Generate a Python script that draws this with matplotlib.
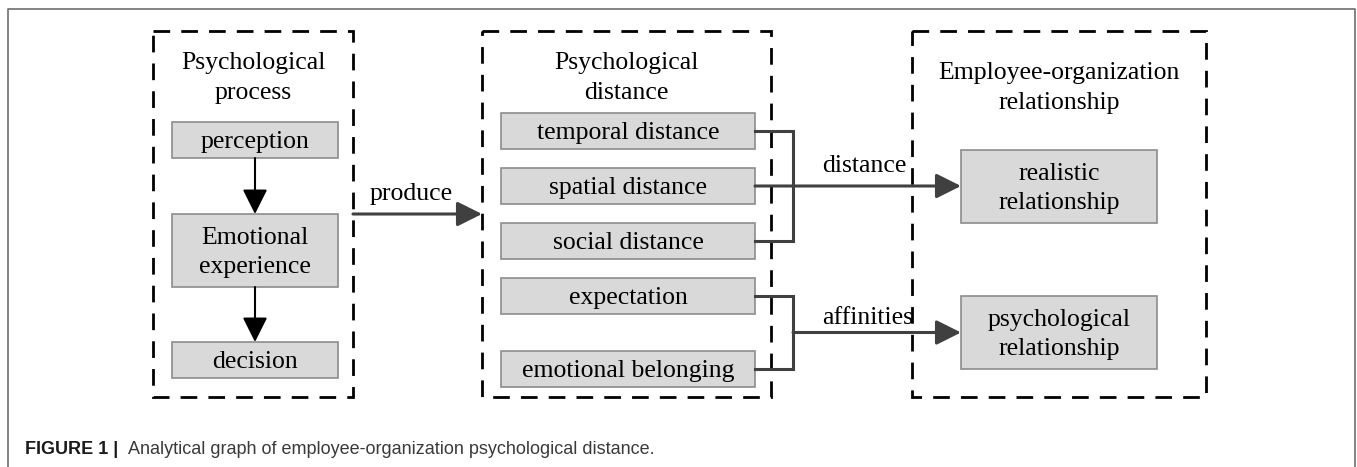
import matplotlib.pyplot as plt
from matplotlib.patches import Rectangle

# Texte des Diagramms
gruppen_titel = ["Psychological\nprocess", "Psychological\ndistance",
                 "Employee-organization\nrelationship"]
prozess = ["perception", "Emotional\nexperience", "decision"]
distanzen = ["temporal distance", "spatial distance", "social distance",
             "expectation", "emotional belonging"]
beziehungen = ["realistic\nrelationship", "psychological\nrelationship"]
pfeil_texte = ["produce", "distance", "affinities"]
caption_fett = "FIGURE 1 |"
caption_text = "Analytical graph of employee-organization psychological distance."

# Layout in Pixeln (x0, x1, y0, y1)
gruppen_box = [(153, 353), (482, 771), (912, 1206)]
titel_y = [78, 78, 88]
prozess_y = [(122, 158), (214, 287), (342, 378)]
distanz_x = (501, 755)
distanz_y = [(113, 149), (168, 204), (223, 259), (278, 314), (351, 387)]
bez_x = (961, 1157)
bez_y = [(150, 223), (296, 369)]

serif = "Liberation Serif"
fs = 18.5
ls = 1.42
fill = "#d9d9d9"
kante = "#8c8c8c"
dunkel = "#404040"

fig = plt.figure(figsize=(13.57, 4.67), dpi=100)
ax = fig.add_axes([0, 0, 1, 1])
ax.set_xlim(0, 1357)
ax.set_ylim(467, 0)
ax.axis("off")

# Rahmen
ax.plot([8, 8, 1355, 1355], [467, 9, 9, 467], color="#6e6e6e", lw=1.2)

# gestrichelte Gruppen
for (x0, x1), titel, ty in zip(gruppen_box, gruppen_titel, titel_y):
    ax.add_patch(Rectangle((x0, 31), x1 - x0, 366, fill=False, ec="black",
                           lw=2.0, ls=(0, (6, 4))))
    ax.text((x0 + x1) / 2, ty, titel, ha="center", va="center",
            family=serif, fontsize=fs, linespacing=ls)


def kasten(x0, x1, y0, y1, text):
    ax.add_patch(Rectangle((x0, y0), x1 - x0, y1 - y0, fc=fill, ec=kante, lw=1.2))
    ax.text((x0 + x1) / 2, (y0 + y1) / 2 + 2, text, ha="center", va="center",
            family=serif, fontsize=fs, linespacing=ls)


def pfeil(x0, y0, x1, y1, farbe, lw):
    ax.annotate("", xy=(x1, y1), xytext=(x0, y0),
                arrowprops=dict(arrowstyle="-|>", mutation_scale=38, lw=lw,
                                color=farbe, shrinkA=0, shrinkB=0))


# linke Gruppe
for (y0, y1), t in zip(prozess_y, prozess):
    kasten(172, 338, y0, y1, t)
for i in range(len(prozess_y) - 1):
    pfeil(255, prozess_y[i][1], 255, prozess_y[i + 1][0], "black", 1.5)

# produce
pfeil(353, 214, 482, 214, dunkel, 2.2)
ax.text(411, 194, pfeil_texte[0], ha="center", va="center", family=serif, fontsize=fs)

# mittlere Gruppe
for (y0, y1), t in zip(distanz_y, distanzen):
    kasten(distanz_x[0], distanz_x[1], y0, y1, t)

mitte = [(a + b) / 2 for a, b in distanz_y]
xv = 793
# Klammer fuer die drei Distanzen
ax.plot([distanz_x[1], xv, xv, distanz_x[1]], [mitte[0], mitte[0], mitte[2], mitte[2]],
        color=dunkel, lw=2.2, solid_joinstyle="miter")
pfeil(distanz_x[1], mitte[1], bez_x[0], mitte[1], dunkel, 2.2)
ax.text(864, 166, pfeil_texte[1], ha="center", va="center", family=serif, fontsize=fs)

# Klammer fuer Erwartung / Zugehoerigkeit
ax.plot([distanz_x[1], xv, xv, distanz_x[1]], [mitte[3], mitte[3], mitte[4], mitte[4]],
        color=dunkel, lw=2.2, solid_joinstyle="miter")
y_aff = (bez_y[1][0] + bez_y[1][1]) / 2
pfeil(xv, y_aff, bez_x[0], y_aff, dunkel, 2.2)
ax.text(868, 318, pfeil_texte[2], ha="center", va="center", family=serif, fontsize=fs)

# rechte Gruppe
for (y0, y1), t in zip(bez_y, beziehungen):
    kasten(bez_x[0], bez_x[1], y0, y1, t)

# Bildunterschrift
ax.text(25, 450, caption_fett, ha="left", va="center", family="Liberation Sans",
        fontsize=13, fontweight="bold", color="#1a1a1a")
ax.text(128, 450, caption_text, ha="left", va="center", family="Liberation Sans",
        fontsize=13, color="#3a3a3a")

fig.savefig("out.png", dpi=100)
